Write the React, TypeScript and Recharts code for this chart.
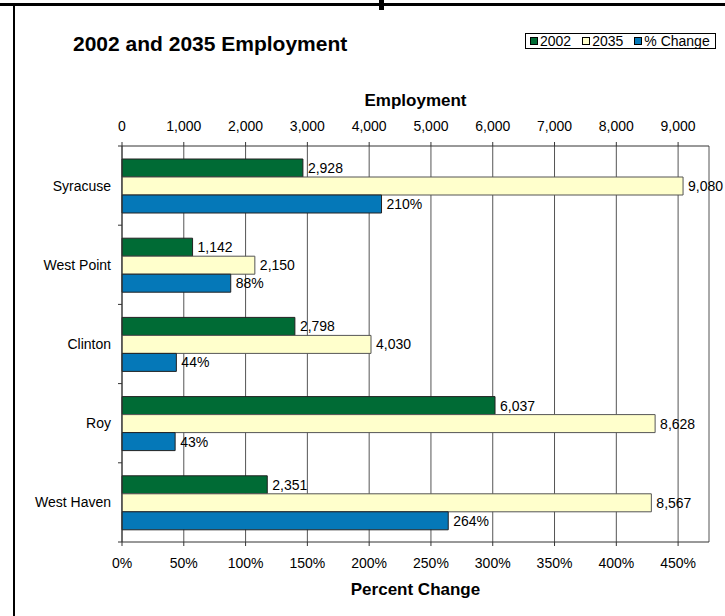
import { Bar, BarChart, CartesianGrid, Label, LabelList, XAxis, YAxis } from 'recharts';

// 2002 vs 2035 employment by city, with % change on a second (bottom) axis.

const CITIES = ['Syracuse', 'West Point', 'Clinton', 'Roy', 'West Haven'];
const EMP_2002 = [2928, 1142, 2798, 6037, 2351];
const EMP_2035 = [9080, 2150, 4030, 8628, 8567];
const PCT_CHANGE = [2.1, 0.88, 0.44, 0.43, 2.64];
const EMP_TICKS = [0, 1000, 2000, 3000, 4000, 5000, 6000, 7000, 8000, 9000];
const PCT_TICKS = [0, 0.5, 1, 1.5, 2, 2.5, 3, 3.5, 4, 4.5];

const GREEN = '#006b35';
const YELLOW = '#ffffcc';
const BLUE = '#0578b8';
const FONT = '"Liberation Sans", Arial, sans-serif';

const W = 725;
const H = 616;
const PLOT_TOP = 146;
const PLOT_BOTTOM = 542;
const PLOT_LEFT = 122;
const BAND = (PLOT_BOTTOM - PLOT_TOP) / CITIES.length;

const data = CITIES.map((name, i) => ({
  name,
  y2002: EMP_2002[i],
  y2035: EMP_2035[i],
  pct: PCT_CHANGE[i],
}));

const fmtNum = (v: any) => Number(v).toLocaleString('en-US');
const fmtPct = (v: any) => `${Math.round(Number(v) * 100)}%`;

const labelProps = { position: 'right' as const, offset: 5, fill: '#000', fontSize: 14, fontFamily: FONT };
const tickStyle = { fill: '#000', fontSize: 14, fontFamily: FONT };

function CityTick(props: any) {
  const { y, payload, index } = props;
  const top = y - BAND / 2;
  const bottom = y + BAND / 2;
  return (
    <g>
      <text x={PLOT_LEFT - 11} y={y} dy={5} textAnchor="end" fontSize={14} fill="#000" fontFamily={FONT}>
        {payload.value}
      </text>
      <line x1={PLOT_LEFT - 4} x2={PLOT_LEFT} y1={top} y2={top} stroke="#333" />
      {index === CITIES.length - 1 && (
        <line x1={PLOT_LEFT - 4} x2={PLOT_LEFT} y1={bottom} y2={bottom} stroke="#333" />
      )}
    </g>
  );
}

function Legend() {
  const items = [
    { label: '2002', color: GREEN },
    { label: '2035', color: YELLOW },
    { label: '% Change', color: BLUE },
  ];
  return (
    <div
      style={{
        position: 'absolute',
        left: 525,
        top: 33,
        width: 185,
        height: 14,
        padding: '0 0 0 4px',
        border: '1px solid #000',
        background: '#fff',
        display: 'flex',
        gap: 11,
        fontSize: 14,
        lineHeight: '14px',
        boxSizing: 'content-box',
      }}
    >
      {items.map((it) => (
        <span key={it.label} style={{ display: 'flex', alignItems: 'center', whiteSpace: 'nowrap' }}>
          <span style={{ width: 6, height: 6, background: it.color, border: '1px solid #000', marginRight: 2 }} />
          {it.label}
        </span>
      ))}
    </div>
  );
}

export default function App() {
  return (
    <div style={{ position: 'absolute', left: 0, top: 0, width: W, height: H, background: '#fff', fontFamily: FONT }}>
      {/* page frame */}
      <div style={{ position: 'absolute', left: 0, top: 3, width: W, height: 3, background: '#000' }} />
      <div style={{ position: 'absolute', left: 13, top: 3, width: 2, height: H - 3, background: '#000' }} />
      <div style={{ position: 'absolute', left: 379, top: 0, width: 5, height: 10, background: '#000' }} />

      <div style={{ position: 'absolute', left: 73, top: 33, fontSize: 21, lineHeight: '21px', fontWeight: 'bold' }}>
        2002 and 2035 Employment
      </div>
      <Legend />

      <BarChart
        width={W}
        height={H}
        data={data}
        layout="vertical"
        margin={{ top: PLOT_TOP - 60, right: W - 709, bottom: H - PLOT_BOTTOM - 60, left: 0 }}
        barGap={0}
        barSize={18}
        style={{ position: 'absolute', left: 0, top: 0 }}
      >
        <CartesianGrid xAxisId="emp" horizontal={false} stroke="#555" />
        <XAxis
          xAxisId="emp"
          orientation="top"
          type="number"
          domain={[0, 9500]}
          ticks={EMP_TICKS}
          tickFormatter={fmtNum}
          height={60}
          tickSize={4}
          tickMargin={11}
          stroke="#333"
          tick={tickStyle}
        >
          <Label value="Employment" position="insideTop" offset={8} fill="#000" fontSize={17} fontWeight="bold" fontFamily={FONT} />
        </XAxis>
        <XAxis
          xAxisId="pct"
          orientation="bottom"
          type="number"
          domain={[0, 4.75]}
          ticks={PCT_TICKS}
          tickFormatter={fmtPct}
          height={60}
          tickSize={4}
          tickMargin={12}
          stroke="#333"
          tick={tickStyle}
        >
          <Label value="Percent Change" position="insideBottom" offset={7} fill="#000" fontSize={17} fontWeight="bold" fontFamily={FONT} />
        </XAxis>
        <YAxis type="category" dataKey="name" width={PLOT_LEFT} tickLine={false} stroke="#333" tick={<CityTick />} />

        <Bar xAxisId="emp" dataKey="y2002" fill={GREEN} stroke="#222" isAnimationActive={false}>
          <LabelList dataKey="y2002" formatter={fmtNum} {...labelProps} />
        </Bar>
        <Bar xAxisId="emp" dataKey="y2035" fill={YELLOW} stroke="#555" isAnimationActive={false}>
          <LabelList dataKey="y2035" formatter={fmtNum} {...labelProps} />
        </Bar>
        <Bar xAxisId="pct" dataKey="pct" fill={BLUE} stroke="#222" isAnimationActive={false}>
          <LabelList dataKey="pct" formatter={fmtPct} {...labelProps} />
        </Bar>
      </BarChart>
    </div>
  );
}
